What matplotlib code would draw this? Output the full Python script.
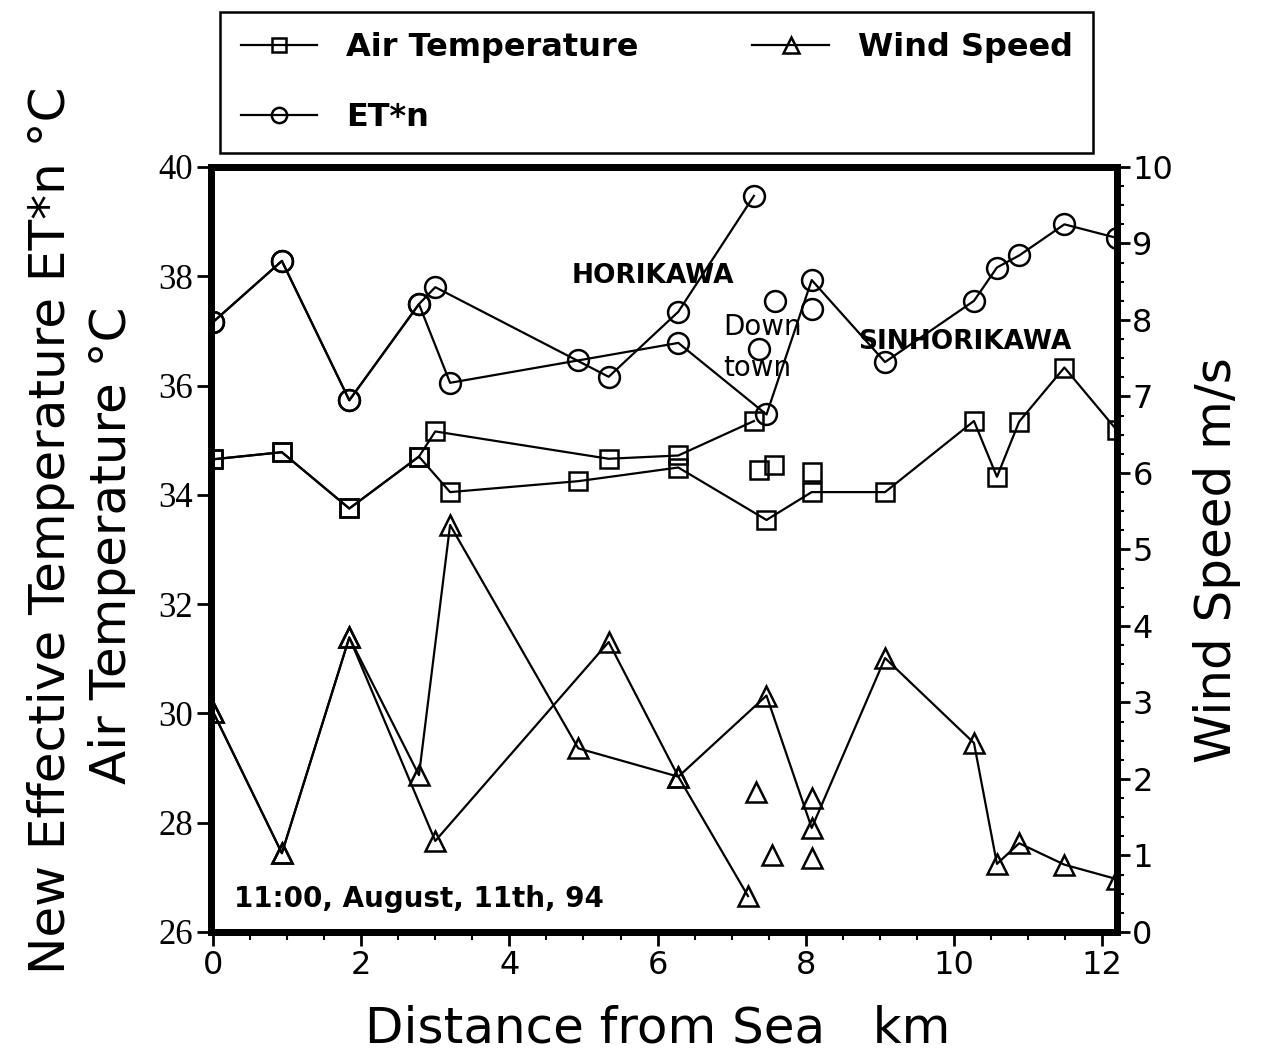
import matplotlib.pyplot as plt
from matplotlib.ticker import MultipleLocator
from matplotlib.lines import Line2D

plt.rcParams['font.family'] = ['DejaVu Sans']

# stations along the two routes (km from the sea)
x_hori = [0, 0.93, 1.84, 2.78, 3.0, 5.34, 6.28, 7.3]
x_sinh = [0, 0.93, 1.84, 2.78, 3.2, 4.93, 6.28, 7.47, 8.08, 9.07, 10.27, 10.58, 10.88, 11.49, 12.2]

# air temperature (C)
air_hori = [34.65, 34.78, 33.75, 34.70, 35.16, 34.66, 34.72, 35.35]
air_sinh = [34.65, 34.78, 33.75, 34.70, 34.05, 34.25, 34.50, 33.54, 34.05, 34.05, 35.35, 34.33, 35.34, 36.33, 35.18]

# new effective temperature ET*n (C)
et_hori = [37.16, 38.28, 35.73, 37.49, 37.80, 36.16, 37.35, 39.47]
et_sinh = [37.16, 38.28, 35.73, 37.49, 36.05, 36.46, 36.78, 35.47, 37.93, 36.43, 37.55, 38.16, 38.38, 38.95, 38.70]

# wind speed (m/s)
xw_hori = [0, 0.93, 1.84, 3.0, 5.34, 6.28, 7.22]
wind_hori = [2.88, 1.03, 3.85, 1.19, 3.79, 2.03, 0.47]
wind_sinh = [2.88, 1.03, 3.85, 2.05, 5.32, 2.40, 2.03, 3.09, 1.36, 3.58, 2.47, 0.89, 1.16, 0.88, 0.69]

# down town points (not connected)
x_town_air = [7.37, 7.57, 8.08]
air_town = [34.46, 34.55, 34.41]
x_town_et = [7.37, 7.58, 8.08]
et_town = [36.67, 37.55, 37.40]
x_town_wind = [7.33, 7.54, 8.08, 8.08]
wind_town = [1.83, 1.00, 1.75, 0.97]

fig = plt.figure(figsize=(12.64, 10.58), dpi=100)
ax = fig.add_axes([0.1669, 0.1191, 0.7168, 0.7231])
ax2 = ax.twinx()

lk = dict(color='black', lw=1.6, mfc='none', mec='black', mew=1.8)

# air temperature and ET*n on the left axis
ax.plot(x_hori, air_hori, marker='s', ms=13, **lk)
ax.plot(x_sinh, air_sinh, marker='s', ms=13, **lk)
ax.plot(x_town_air, air_town, ls='none', marker='s', ms=13, **lk)
ax.plot(x_hori, et_hori, marker='o', ms=15, **lk)
ax.plot(x_sinh, et_sinh, marker='o', ms=15, **lk)
ax.plot(x_town_et, et_town, ls='none', marker='o', ms=15, **lk)

# wind speed on the right axis
ax2.plot(xw_hori, wind_hori, marker='^', ms=15, **lk)
ax2.plot(x_sinh, wind_sinh, marker='^', ms=15, **lk)
ax2.plot(x_town_wind, wind_town, ls='none', marker='^', ms=15, **lk)

ax.set_xlim(-0.027, 12.2)
ax.set_ylim(26, 40)
ax2.set_ylim(0, 10)

ax.xaxis.set_major_locator(MultipleLocator(2))
ax.xaxis.set_minor_locator(MultipleLocator(0.5))
ax.yaxis.set_major_locator(MultipleLocator(2))
ax2.yaxis.set_major_locator(MultipleLocator(1))
ax2.yaxis.set_minor_locator(MultipleLocator(0.25))

ax.tick_params(axis='both', which='major', direction='out', length=10, width=2, labelsize=23, pad=3)
ax.tick_params(axis='x', which='minor', direction='out', length=6, width=1.5)
ax2.tick_params(axis='y', which='major', direction='out', length=9, width=2, labelsize=23, pad=2)
ax2.tick_params(axis='y', which='minor', direction='out', length=5, width=1.5)
for lab in ax.get_yticklabels():
    lab.set_family('Liberation Serif')
    lab.set_fontsize(25)

for s in ax.spines.values():
    s.set_linewidth(5)
for s in ax2.spines.values():
    s.set_linewidth(5)

# annotations
ax.text(5.93, 38.0, 'HORIKAWA', fontsize=19, fontweight='bold', ha='center', va='center')
ax.text(6.88, 37.08, 'Down', fontsize=20, ha='left', va='center')
ax.text(6.88, 36.33, 'town', fontsize=20, ha='left', va='center')
ax.text(8.7, 36.8, 'SINHORIKAWA', fontsize=19, fontweight='bold', ha='left', va='center')
ax.text(0.29, 26.6, '11:00, August, 11th, 94', fontsize=20, fontweight='bold', ha='left', va='center')

# axis titles
fig.text(0.040, 0.499, 'New Effective Temperature ET*n °C', rotation=90,
         fontsize=36, ha='center', va='center')
fig.text(0.089, 0.485, 'Air Temperature °C', rotation=90,
         fontsize=36, ha='center', va='center')
fig.text(0.963, 0.471, 'Wind Speed m/s', rotation=90,
         fontsize=36, ha='center', va='center')
fig.text(0.52, 0.028, 'Distance from Sea   km', fontsize=36, ha='center', va='center')

# legend above the plot
h_air = Line2D([], [], marker='s', ms=10, **lk)
h_et = Line2D([], [], marker='o', ms=11, **lk)
h_wind = Line2D([], [], marker='^', ms=11, **lk)
leg = fig.legend([h_air, h_et, h_wind], ['Air Temperature', 'ET*n', 'Wind Speed'],
                 ncol=2, loc='upper left', bbox_to_anchor=(0.174, 0.989, 0.691, 0.0),
                 mode='expand', borderaxespad=0,
                 prop={'size': 23, 'weight': 'bold'}, frameon=True, fancybox=False,
                 framealpha=1, edgecolor='black', handlelength=2.4, handletextpad=0.9,
                 columnspacing=2.0, labelspacing=1.2, borderpad=0.65)
leg.get_frame().set_linewidth(1.8)

fig.savefig('out.png', dpi=100)
